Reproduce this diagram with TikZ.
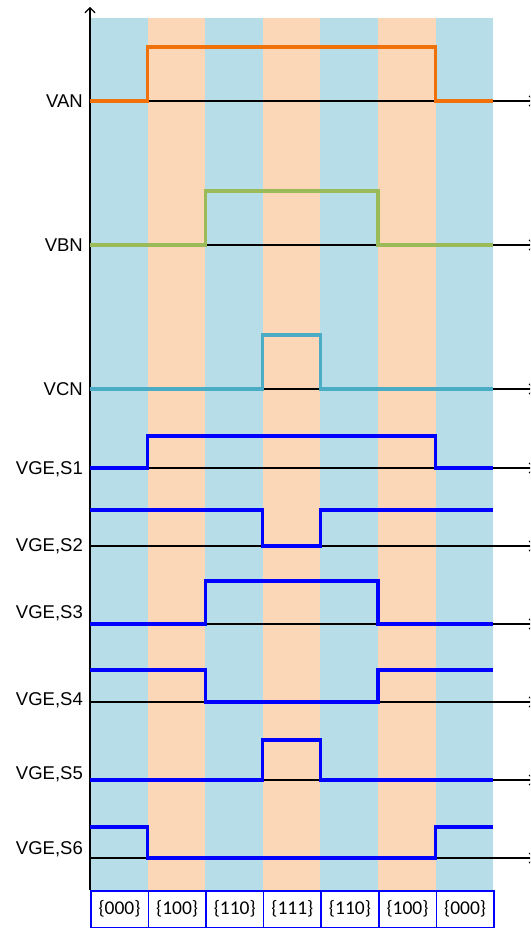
\documentclass[tikz,border=0pt]{standalone}
\usepackage{fontspec}
\setmainfont{Liberation Sans}
\newfontfamily\calib{Carlito}
\usetikzlibrary{arrows.meta}
\definecolor{stripeblue}{RGB}{183,221,232}
\definecolor{stripeorange}{RGB}{251,214,183}
\definecolor{vanorange}{RGB}{240,112,10}
\definecolor{vbngreen}{RGB}{155,187,89}
\definecolor{vcnteal}{RGB}{75,172,198}
\definecolor{gateblue}{RGB}{0,0,255}
\begin{document}
\begin{tikzpicture}[x=1pt,y=-1pt,
  axis/.style={line width=1.2pt,black},
  axisarrow/.style={axis,-{Straight Barb[length=5pt,width=10pt,line width=1.2pt]}},
  sig/.style={line width=3.3pt, line join=miter},
  lbl/.style={anchor=east, font=\fontsize{18.5}{20}\selectfont, inner sep=0pt, text height=13.2pt, text depth=0pt},
  statebox/.style={draw=gateblue, line width=1.5pt, fill=white, minimum width=57.6pt, minimum height=37pt, inner sep=0pt, font=\calib\fontsize{19.5}{21}\selectfont, anchor=north west}]
\clip (0,0) rectangle (530,928);
\fill[white] (0,0) rectangle (530,928);
% stripes
\foreach \i in {0,...,6}{
  \pgfmathsetmacro{\xa}{90+57.6*\i}
  \pgfmathsetmacro{\xb}{90+57.6*(\i+1)}
  \ifodd\i
    \fill[stripeorange] (\xa,18) rectangle (\xb,890);
  \else
    \fill[stripeblue] (\xa,18) rectangle (\xb,890);
  \fi
}
% vertical axis
\coordinate (yb) at (90,890);
\coordinate (yt) at (90,7);
\draw[axisarrow] (yb) -- (yt);
% horizontal axes
\foreach \n/\y in {van/101,vbn/245,vcn/389,s1/468,s2/546,s3/624,s4/702,s5/780,s6/858}{
  \coordinate (\n-l) at (90,\y);
  \coordinate (\n-r) at (535,\y);
  \draw[axisarrow] (\n-l) -- (\n-r);
}
% signals
\draw[sig,vanorange] (90,101) -- (147.6,101) -- (147.6,47) -- (435.6,47) -- (435.6,101) -- (493.2,101);
\draw[sig,vbngreen] (90,245) -- (205.2,245) -- (205.2,191) -- (378,191) -- (378,245) -- (493.2,245);
\draw[sig,vcnteal] (90,389) -- (262.8,389) -- (262.8,335) -- (320.4,335) -- (320.4,389) -- (493.2,389);
\draw[sig,gateblue] (90,468) -- (147.6,468) -- (147.6,436) -- (435.6,436) -- (435.6,468) -- (493.2,468);
\draw[sig,gateblue] (90,510) -- (262.8,510) -- (262.8,546) -- (320.4,546) -- (320.4,510) -- (493.2,510);
\draw[sig,gateblue] (90,624) -- (205.2,624) -- (205.2,581) -- (378,581) -- (378,624) -- (493.2,624);
\draw[sig,gateblue] (90,670) -- (205.2,670) -- (205.2,702) -- (378,702) -- (378,670) -- (493.2,670);
\draw[sig,gateblue] (90,780) -- (262.8,780) -- (262.8,740) -- (320.4,740) -- (320.4,780) -- (493.2,780);
\draw[sig,gateblue] (90,827) -- (147.6,827) -- (147.6,858) -- (435.6,858) -- (435.6,827) -- (493.2,827);
% labels
\node[lbl] (lvan) at (83,101) {VAN};
\node[lbl] (lvbn) at (83,245) {VBN};
\node[lbl] (lvcn) at (83,389) {VCN};
\node[lbl] (ls1) at (83,468) {VGE,S1};
\node[lbl] (ls2) at (83,545) {VGE,S2};
\node[lbl] (ls3) at (83,612) {VGE,S3};
\node[lbl] (ls4) at (83,699) {VGE,S4};
\node[lbl] (ls5) at (83,773) {VGE,S5};
\node[lbl] (ls6) at (83,848) {VGE,S6};
% state boxes
\foreach \i/\t in {0/000,1/100,2/110,3/111,4/110,5/100,6/000}{
  \node[statebox] (st\i) at ({90+57.6*\i},890) {\{\t\}};
}
\end{tikzpicture}
\end{document}
